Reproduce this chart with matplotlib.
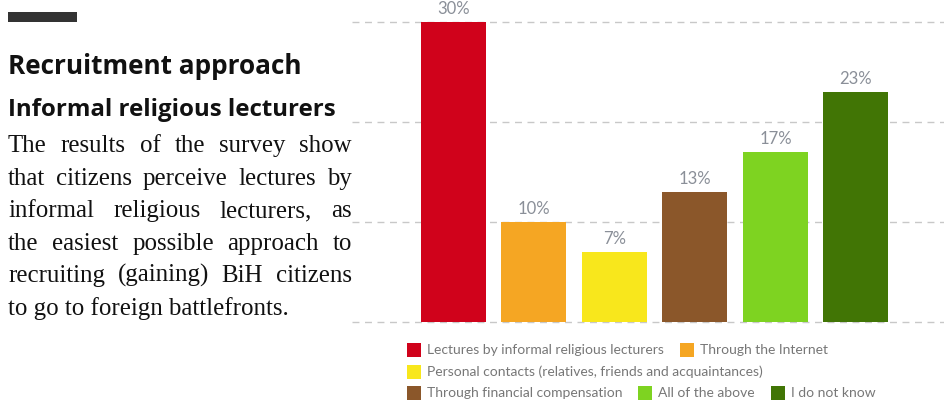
import matplotlib
matplotlib.use("Agg")
import matplotlib.pyplot as plt
from matplotlib.patches import Rectangle

# ---- data -----------------------------------------------------------------
categories = [
    "Lectures by informal religious lecturers",
    "Through the Internet",
    "Personal contacts (relatives, friends and acquaintances)",
    "Through financial compensation",
    "All of the above",
    "I do not know",
]
values = [30, 10, 7, 13, 17, 23]
colors = ["#d0021b", "#f5a623", "#f8e71c", "#8b572a", "#7ed321", "#417505"]
y_ticks = [0, 10, 20, 30]

title = "Recruitment approach"
subtitle = "Informal religious lecturers"
body_lines = [
    "The results of the survey show",
    "that citizens perceive lectures by",
    "informal religious lecturers, as",
    "the easiest possible approach to",
    "recruiting (gaining) BiH citizens",
    "to go to foreign battlefronts.",
]
legend_rows = [[0, 1], [2], [3, 4, 5]]

# ---- figure ---------------------------------------------------------------
W, H = 945, 401
fig = plt.figure(figsize=(W / 100, H / 100), dpi=100)
fig.patch.set_facecolor("white")


def px(x, y):
    """pixel (from top-left) -> figure fraction"""
    return x / W, 1 - y / H


# chart axes: 0 at y=322px, 30 at y=22px
ax_left, ax_right, ax_bottom, ax_top = 352, 945, 322, 22
ax = fig.add_axes([ax_left / W, 1 - ax_bottom / H,
                   (ax_right - ax_left) / W, (ax_bottom - ax_top) / H])
ax.set_ylim(0, 30)
ax.set_xlim(-1.26, 6.106)
for t in y_ticks:
    ax.axhline(t, color="#c8c8c8", lw=1.0, ls=(0, (5, 4)), zorder=0, clip_on=False)

xs = list(range(len(values)))
bars = ax.bar(xs, values, width=0.807, color=colors, zorder=2)
for x, v in zip(xs, values):
    ax.annotate(f"{v}%", (x, v), xytext=(0, 3.5), textcoords="offset points",
                ha="center", va="bottom", fontsize=12, family="Lato",
                color="#8a8f98")
ax.axis("off")

# ---- left text block ------------------------------------------------------
fig.patches.append(Rectangle(px(8, 22), 69 / W, 10 / H, transform=fig.transFigure,
                             facecolor="#333333", edgecolor="none"))
fig.text(*px(8, 74), title, fontsize=18.8, fontweight="bold", family="Open Sans",
         color="#111111", va="baseline", ha="left")
fig.text(*px(8, 116), subtitle, fontsize=17.3, fontweight="bold", family="Open Sans",
         color="#111111", va="baseline", ha="left")

renderer = fig.canvas.get_renderer()
x0, x1 = 8, 352
base0, step = 152, 32.5
body_size = 17.9
for i, line in enumerate(body_lines):
    y = base0 + i * step
    words = line.split(" ")
    if i == len(body_lines) - 1:
        fig.text(*px(x0, y), line, fontsize=body_size, family="Liberation Serif",
                 color="#111111", va="baseline", ha="left")
        continue
    texts = [fig.text(0, 0, w, fontsize=body_size, family="Liberation Serif",
                      color="#111111", va="baseline", ha="left") for w in words]
    widths = [t.get_window_extent(renderer).width for t in texts]
    gap = ((x1 - x0) - sum(widths)) / (len(words) - 1)
    cx = x0
    for t, w in zip(texts, widths):
        t.set_position(px(cx, y))
        cx += w + gap

# ---- legend ---------------------------------------------------------------
row_y = [350, 372, 393]
for r, row in enumerate(legend_rows):
    cx = 407
    cy = row_y[r]
    for idx in row:
        fig.patches.append(Rectangle(px(cx, cy + 7), 14 / W, 14 / H,
                                     transform=fig.transFigure,
                                     facecolor=colors[idx], edgecolor="none"))
        t = fig.text(*px(cx + 20, cy), categories[idx], fontsize=10, family="Lato",
                     color="#777777", va="center", ha="left")
        tw = t.get_window_extent(renderer).width
        cx += 20 + tw + 16

fig.savefig("out.png", dpi=100, facecolor="white")
